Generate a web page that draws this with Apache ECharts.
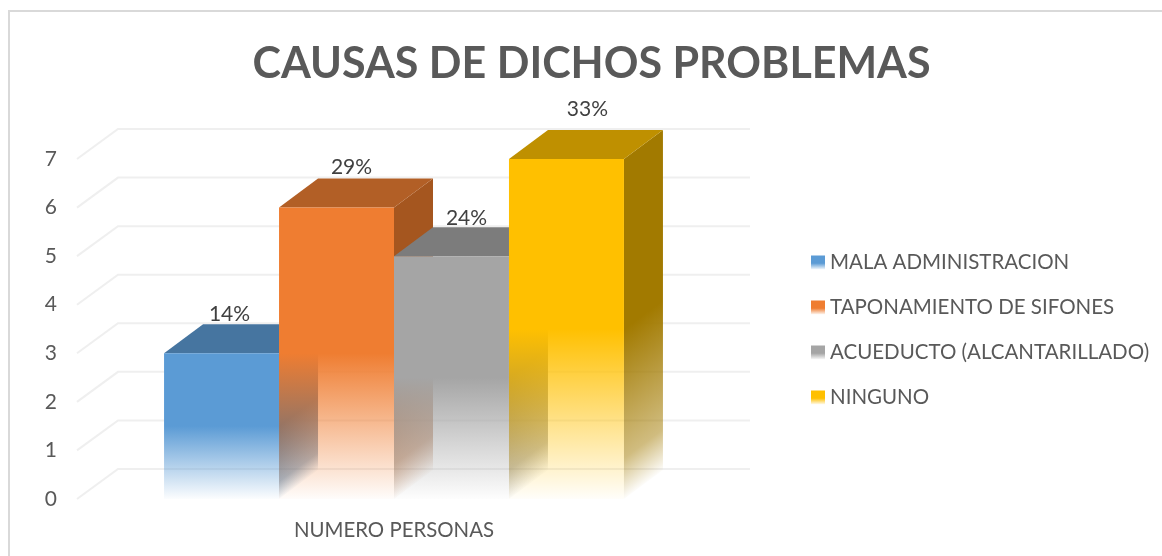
<!DOCTYPE html>
<html><head><meta charset="utf-8">
<style>html,body{margin:0;padding:0;background:#fff}#c{width:1162px;height:556px}</style>
<script src="https://cdn.jsdelivr.net/npm/echarts@6/dist/echarts.min.js"></script>
</head><body><div id="c"></div>
<script>
const categories = ['NUMERO PERSONAS'];
const seriesNames = ['MALA ADMINISTRACION','TAPONAMIENTO DE SIFONES','ACUEDUCTO (ALCANTARILLADO)','NINGUNO'];
const seriesValues = [3, 6, 5, 7];
const seriesLabels = ['14%','29%','24%','33%'];
const valueTicks = [0,1,2,3,4,5,6,7];
const frontColors = ['#5b9bd5','#ef7d31','#a5a5a5','#ffc000'];
const topColors = ['#4675a0','#b25f26','#7c7c7c','#bf9000'];
const sideColors = ['#3a6c99','#a5561f','#737373','#a27a00'];
const labelNudgeX = [8, 15, 15, 21];
const labelLift = [10, 11, 9, 21];

const DX = 39, DY = -29, GX = 41, GY = -30;
const BAR_FRACTION = 0.1825;
const FONT = 'Lato, "Open Sans", sans-serif';

function rgba(hex, a){
  const n = parseInt(hex.slice(1),16);
  return 'rgba('+(n>>16)+','+((n>>8)&255)+','+(n&255)+','+a+')';
}
function fade(x0,y0,x1,y1,hex){
  return new echarts.graphic.LinearGradient(x0,y0,x1,y1,[
    {offset:0,color:rgba(hex,0.02)},
    {offset:0.5,color:rgba(hex,1)},
    {offset:1,color:rgba(hex,1)}
  ],true);
}
function sideFade(x0,y0,x1,y1,hex){
  return new echarts.graphic.LinearGradient(x0,y0,x1,y1,[
    {offset:0,color:rgba(hex,0.02)},
    {offset:0.12,color:rgba(hex,0.5)},
    {offset:0.5,color:rgba(hex,1)},
    {offset:1,color:rgba(hex,1)}
  ],true);
}
function legendFade(hex){
  return new echarts.graphic.LinearGradient(0,0,0,1,[
    {offset:0,color:hex},{offset:0.55,color:hex},{offset:1,color:rgba(hex,0.05)}
  ]);
}

function barItem(idx){
  return function(params, api){
    const band = api.size([1,0])[0];
    const w = band * BAR_FRACTION;
    const base = api.coord([0,0]);
    const top = api.coord([0,api.value(1)]);
    const x0 = base[0] + (idx-2)*w;
    const x1 = x0 + w;
    const yB = base[1], yT = top[1], H = yB-yT;
    const k = 0.8*H/Math.hypot(DX,DY);
    const side = {type:'polygon',shape:{points:[[x1,yT],[x1+DX,yT+DY],[x1+DX,yB+DY],[x1,yB]]},
      style:{fill:sideFade(x1,yB,x1+DY*k,yB-DX*k,sideColors[idx])},z2:1};
    const topFace = {type:'polygon',shape:{points:[[x0,yT],[x1,yT],[x1+DX,yT+DY],[x0+DX,yT+DY]]},
      style:{fill:topColors[idx]},z2:2};
    const front = {type:'rect',shape:{x:x0,y:yT,width:w,height:H},
      style:{fill:fade(0,yB,0,yT,frontColors[idx])},z2:3};
    const label = {type:'text',style:{
      x:x0+w/2+labelNudgeX[idx],y:yT+DY-labelLift[idx],text:seriesLabels[idx],
      fill:'#404040',font:'21px '+FONT,align:'center',verticalAlign:'middle'},z2:4};
    return {type:'group',children:[side,topFace,front,label]};
  };
}

function gridItem(params, api){
  const cs = params.coordSys;
  const p = api.coord([0,api.value(0)]);
  const y = p[1], xL = cs.x, xR = cs.x+cs.width;
  const st = {stroke:'#efefef',lineWidth:2,fill:'none'};
  return {type:'polyline',shape:{points:[[xL-2,y],[xL-2+GX,y+GY],[xR+GX,y+GY]]},style:st};
}

const series = [{
  type:'custom',name:'grid',renderItem:gridItem,silent:true,z:1,clip:false,
  data:valueTicks.map(v=>[v]),encode:{y:0}
}];
seriesNames.forEach((name,i)=>{
  series.push({
    type:'custom',name,renderItem:barItem(i),z:2+i,clip:false,
    itemStyle:{color:legendFade(frontColors[i])},
    data:[[categories[0],seriesValues[i]]],encode:{x:0,y:1}
  });
});

const chart = echarts.init(document.getElementById('c'),null,{renderer:'canvas'});
chart.setOption({
  animation:false,
  backgroundColor:'#fff',
  title:{text:'CAUSAS DE DICHOS PROBLEMAS',left:586.5,top:59,textAlign:'center',textVerticalAlign:'middle',
    textStyle:{fontFamily:FONT,fontWeight:'bold',fontSize:43,color:'#595959'}},
  legend:{show:true,orient:'vertical',left:806,top:247,itemWidth:14,itemHeight:14,itemGap:24,
    icon:'rect',data:seriesNames,selectedMode:false,
    textStyle:{fontFamily:FONT,fontSize:20.5,color:'#595959',lineHeight:20}},
  grid:{left:79,top:159,width:630,height:340,containLabel:false},
  xAxis:{type:'category',data:categories,axisLine:{show:false},axisTick:{show:false},splitLine:{show:false},
    axisLabel:{fontFamily:FONT,fontSize:20.4,color:'#595959',margin:21}},
  yAxis:{type:'value',min:0,max:7,interval:1,axisLine:{show:false},axisTick:{show:false},splitLine:{show:false},
    axisLabel:{fontFamily:FONT,fontSize:21,color:'#595959',margin:22,padding:[0,0,3,0]}},
  graphic:[{type:'polyline',silent:true,z:-1,shape:{points:[[9,556],[9,11],[1162,11]]},
    style:{fill:'none',stroke:'#d9d9d9',lineWidth:2}}],
  series
});
</script></body></html>
